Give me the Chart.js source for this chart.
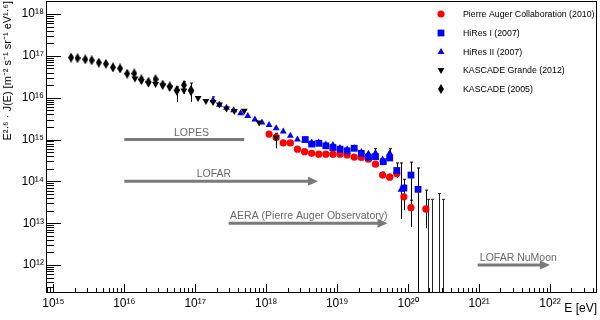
<!DOCTYPE html>
<html><head><meta charset="utf-8">
<script src="https://cdn.jsdelivr.net/npm/chart.js@4.4.1/dist/chart.umd.min.js"></script>
<style>html,body{margin:0;padding:0;background:#fff}#wrap{width:600px;height:320px}</style>
</head><body><div id="wrap"><canvas id="c" width="600" height="320"></canvas></div>
<script>
// ---- data (log10 of E [eV] and log10 of E^2.6 J(E)) ----
const augerLogE = [18.04,18.14,18.24,18.34,18.44,18.54,18.64,18.74,18.84,18.94,19.04,19.14,19.24,19.34,19.44,19.54,19.64,19.74,19.84,19.94,20.04,20.25];
const augerLogJ = [15.13,15.05,14.92,14.92,14.77,14.71,14.67,14.65,14.65,14.65,14.65,14.63,14.58,14.57,14.53,14.41,14.15,14.10,14.18,13.63,13.37,13.34];

const hires1LogE = [18.55,18.64,18.74,18.84,18.94,19.04,19.14,19.24,19.34,19.44,19.54,19.65,19.74,19.84,19.94,20.04,20.14];
const hires1LogJ = [15.00,14.89,14.91,14.85,14.81,14.77,14.73,14.79,14.67,14.58,14.59,14.47,14.56,14.26,13.84,14.15,13.81];

const hires2LogE = [17.25,17.34,17.44,17.54,17.64,17.74,17.84,17.94,18.04,18.14,18.24,18.34,18.44,18.54,18.64,18.74,18.84,18.94,19.04,19.14,19.24,19.34,19.44,19.54,19.64,19.74,19.90];
const hires2LogJ = [15.94,15.83,15.76,15.70,15.63,15.56,15.48,15.41,15.35,15.27,15.19,15.09,15.00,14.98,14.93,14.93,14.88,14.87,14.80,14.77,14.80,14.70,14.66,14.68,14.52,14.67,13.80];

const kgLogE = [16.15,16.24,16.34,16.44,16.54,16.64,16.74,16.84,16.94,17.04,17.15,17.25,17.34,17.44,17.55,17.69,17.90,18.14];
const kgLogJ = [16.46,16.40,16.34,16.33,16.29,16.24,16.14,16.17,16.13,15.99,15.92,15.90,15.84,15.74,15.68,15.69,15.41,15.05];

const kascadeLogE = [15.25,15.34,15.45,15.54,15.64,15.74,15.84,15.94,16.04,16.14,16.24,16.34,16.44,16.54,16.64,16.74,16.84,16.94];
const kascadeLogJ = [16.96,16.945,16.915,16.895,16.84,16.81,16.725,16.70,16.575,16.58,16.44,16.38,16.44,16.315,16.27,16.185,16.30,16.185];

// error bars: series, log E, low, high (null low = down to the axis)
const errSeries = ['kascade','kascade','kascade','kg','kg','hires1','hires1','hires1','hires1','hires2','hires2','hires2','auger','auger','auger','auger','auger'];
const errLogE   = [16.74,16.84,16.94,17.25,18.14,19.84,19.94,20.04,20.14,19.54,19.74,19.90,19.64,19.74,19.94,20.04,20.25];
const errLow    = [15.90,16.09,15.90,15.85,14.79,14.08,13.60,12.91,null,14.55,14.55,13.10,14.08,14.03,13.31,13.15,12.88];
const errHigh   = [16.26,16.38,16.35,16.02,15.15,14.44,14.05,14.46,14.32,14.78,14.78,14.44,14.22,14.17,13.91,13.55,13.79];

// bars without marker reaching the axis bottom
const limLogE = [20.28,20.34,20.44,20.49];
const limHigh = [13.57,13.57,13.71,13.57];

// radio experiments energy ranges
const expNames    = ['LOPES','LOFAR','AERA (Pierre Auger Observatory)','LOFAR NuMoon'];
const expLogEMin  = [16.0,16.0,17.47,20.98];
const expLogEMax  = [17.69,18.73,19.71,22.0];
const expLogLevel = [15,14,13,12];
const expArrow    = [false,true,true,true];
const expLabelLogE= [16.70,17.02,17.49,21.01];

// axes
const xTickExps = [15,16,17,18,19,20,21,22];
const xTickLabels = ['10¹⁵','10¹⁶','10¹⁷','10¹⁸','10¹⁹','10²⁰','10²¹','10²²'];
const yTickExps = [12,13,14,15,16,17,18];
const yTickLabels = ['10¹²','10¹³','10¹⁴','10¹⁵','10¹⁶','10¹⁷','10¹⁸'];
const xRangeExp = [14.896,22.662];
const yRangeExp = [11.331,18.312];

const legendLabels = ['Pierre Auger Collaboration (2010)','HiRes I (2007)','HiRes II (2007)','KASCADE Grande (2012)','KASCADE (2005)'];
const legendKeys = ['auger','hires1','hires2','kg','kascade'];

const FONT = "'Liberation Sans', Arial, Helvetica, sans-serif";
const pts = (le, lj) => le.map((e, i) => ({x: Math.pow(10, e), y: Math.pow(10, lj[i])}));

function diamondCanvas() {
  const c = document.createElement('canvas'); c.width = 6; c.height = 10;
  const g = c.getContext('2d'); g.fillStyle = '#000';
  g.beginPath(); g.moveTo(3, 0); g.lineTo(6, 5); g.lineTo(3, 10); g.lineTo(0, 5); g.closePath(); g.fill();
  return c;
}
const diamond = diamondCanvas();

const styleOf = {
  auger:   {color: '#ff0000'},
  hires1:  {color: '#0000ff'},
  hires2:  {color: '#0000ff'},
  kg:      {color: '#000000'},
  kascade: {color: '#000000'}
};

function drawMarker(ctx, key, x, y) {
  ctx.fillStyle = styleOf[key].color;
  ctx.beginPath();
  if (key === 'auger') { ctx.arc(x, y, 3.6, 0, Math.PI * 2); }
  else if (key === 'hires1') { ctx.rect(x - 3.4, y - 3.4, 6.8, 6.8); }
  else if (key === 'hires2') { ctx.moveTo(x, y - 4); ctx.lineTo(x + 3.46, y + 2); ctx.lineTo(x - 3.46, y + 2); ctx.closePath(); }
  else if (key === 'kg') { ctx.moveTo(x, y + 4); ctx.lineTo(x + 3.46, y - 2); ctx.lineTo(x - 3.46, y - 2); ctx.closePath(); }
  else { ctx.drawImage(diamond, x - 3, y - 5); return; }
  ctx.fill();
}

const framePlugin = {
  id: 'frame',
  beforeDatasetsDraw(chart) {
    const {ctx, chartArea: a, scales: {x, y}} = chart;
    ctx.save();
    // experiment ranges
    for (let i = 0; i < expNames.length; i++) {
      const x0 = x.getPixelForValue(Math.pow(10, expLogEMin[i]));
      const x1 = x.getPixelForValue(Math.pow(10, expLogEMax[i]));
      const yy = y.getPixelForValue(Math.pow(10, expLogLevel[i]));
      ctx.strokeStyle = '#7a7a7a'; ctx.fillStyle = '#7a7a7a'; ctx.lineWidth = 3;
      ctx.beginPath(); ctx.moveTo(x0, yy); ctx.lineTo(expArrow[i] ? x1 - 8 : x1, yy); ctx.stroke();
      if (expArrow[i]) {
        ctx.beginPath(); ctx.moveTo(x1, yy); ctx.lineTo(x1 - 10, yy - 4.5); ctx.lineTo(x1 - 10, yy + 4.5); ctx.closePath(); ctx.fill();
      }
      ctx.fillStyle = '#6a6a6a';
      ctx.font = '10.5px ' + FONT; ctx.textAlign = 'left'; ctx.textBaseline = 'alphabetic';
      ctx.fillText(expNames[i], x.getPixelForValue(Math.pow(10, expLabelLogE[i])), yy - 4);
    }
    // error bars
    ctx.lineWidth = 1;
    const bar = (px, yTop, yBot, color) => {
      px = Math.round(px) + 0.5;
      ctx.strokeStyle = color;
      ctx.beginPath(); ctx.moveTo(px, yTop); ctx.lineTo(px, yBot);
      ctx.moveTo(px - 1.5, yTop); ctx.lineTo(px + 1.5, yTop);
      ctx.stroke();
    };
    for (let i = 0; i < errLogE.length; i++) {
      const px = x.getPixelForValue(Math.pow(10, errLogE[i]));
      const yt = y.getPixelForValue(Math.pow(10, errHigh[i]));
      const yb = errLow[i] === null ? a.bottom : y.getPixelForValue(Math.pow(10, errLow[i]));
      bar(px, yt, yb, '#000');
    }
    for (let i = 0; i < limLogE.length; i++) {
      const px = x.getPixelForValue(Math.pow(10, limLogE[i]));
      bar(px, y.getPixelForValue(Math.pow(10, limHigh[i])), a.bottom, '#222');
    }
    ctx.restore();
  },
  afterDraw(chart) {
    const {ctx, chartArea: a, scales: {x, y}} = chart;
    ctx.save();
    ctx.strokeStyle = '#000'; ctx.lineWidth = 1;
    ctx.strokeRect(a.left + 0.5, a.top + 0.5, a.right - a.left - 1, a.bottom - a.top - 1);
    ctx.beginPath();
    for (let e = 14; e <= 22; e++) {
      for (let m = 1; m < 10; m++) {
        const v = m * Math.pow(10, e);
        if (v < x.min || v > x.max) continue;
        const px = Math.round(x.getPixelForValue(v)) + 0.5;
        ctx.moveTo(px, a.bottom); ctx.lineTo(px, a.bottom - (m === 1 ? 9 : 5));
      }
    }
    for (let e = 11; e <= 18; e++) {
      for (let m = 1; m < 10; m++) {
        const v = m * Math.pow(10, e);
        if (v < y.min || v > y.max) continue;
        const py = Math.round(y.getPixelForValue(v)) + 0.5;
        ctx.moveTo(a.left, py); ctx.lineTo(a.left + (m === 1 ? 15 : 8), py);
      }
    }
    ctx.stroke();
    // legend
    ctx.font = '8.8px ' + FONT; ctx.textBaseline = 'middle'; ctx.textAlign = 'left';
    const rowsY = [14, 33, 52, 70, 89];
    for (let i = 0; i < legendLabels.length; i++) {
      drawMarker(ctx, legendKeys[i], 441, rowsY[i]);
      ctx.fillStyle = '#000';
      ctx.fillText(legendLabels[i], 463, rowsY[i] + 0.5);
    }
    ctx.restore();
  }
};

const tickFont = {family: FONT, size: 12};

new Chart(document.getElementById('c'), {
  type: 'scatter',
  data: {
    datasets: [
      {label: legendLabels[3], data: pts(kgLogE, kgLogJ), pointStyle: 'triangle', pointRotation: 180, pointRadius: 4, pointBorderWidth: 0, backgroundColor: '#000', borderColor: '#000'},
      {label: legendLabels[4], data: pts(kascadeLogE, kascadeLogJ), pointStyle: diamond, pointRadius: 4, pointBorderWidth: 0, backgroundColor: '#000', borderColor: '#000'},
      {label: legendLabels[1], data: pts(hires1LogE, hires1LogJ), pointStyle: 'rect', pointRadius: 4.8, pointBorderWidth: 0, backgroundColor: '#0000ff', borderColor: '#0000ff'},
      {label: legendLabels[2], data: pts(hires2LogE, hires2LogJ), pointStyle: 'triangle', pointRadius: 4, pointBorderWidth: 0, backgroundColor: '#0000ff', borderColor: '#0000ff'},
      {label: legendLabels[0], data: pts(augerLogE, augerLogJ), pointStyle: 'circle', pointRadius: 3.6, pointBorderWidth: 0, backgroundColor: '#ff0000', borderColor: '#ff0000'}
    ]
  },
  options: {
    responsive: false, animation: false, devicePixelRatio: 1,
    layout: {autoPadding: false, padding: {top: 1, right: 3, left: 0, bottom: 0}},
    plugins: {legend: {display: false}, tooltip: {enabled: false}},
    scales: {
      x: {
        type: 'logarithmic', min: Math.pow(10, xRangeExp[0]), max: Math.pow(10, xRangeExp[1]),
        afterBuildTicks: s => { s.ticks = xTickExps.map(e => ({value: Math.pow(10, e), major: true})); },
        afterFit: s => { s.height = 27; s.paddingLeft = 0; s.paddingRight = 0; s.paddingTop = 0; s.paddingBottom = 0; },
        ticks: {callback: (v, i) => xTickLabels[i], autoSkip: false, maxRotation: 0, minRotation: 0, padding: 3, color: '#000', font: tickFont},
        grid: {display: false, drawTicks: false},
        border: {display: false},
        title: {display: true, text: 'E [eV]', align: 'end', color: '#000', font: {family: FONT, size: 12}, padding: {top: 0, bottom: 4}}
      },
      y: {
        type: 'logarithmic', min: Math.pow(10, yRangeExp[0]), max: Math.pow(10, yRangeExp[1]),
        afterBuildTicks: s => { s.ticks = yTickExps.map(e => ({value: Math.pow(10, e), major: true})); },
        afterFit: s => { s.width = 46; s.paddingTop = 0; s.paddingBottom = 0; s.paddingLeft = 0; s.paddingRight = 0; },
        ticks: {callback: (v, i) => yTickLabels[i], autoSkip: false, padding: 2, color: '#000', font: tickFont},
        grid: {display: false, drawTicks: false},
        border: {display: false},
        title: {display: true, text: 'E²·⁶ · J(E) [m⁻² s⁻¹ sr⁻¹ eV¹·⁶]', align: 'end', color: '#000', font: {family: FONT, size: 11}, padding: {top: 1, bottom: 0}}
      }
    }
  },
  plugins: [framePlugin]
});
</script></body></html>
